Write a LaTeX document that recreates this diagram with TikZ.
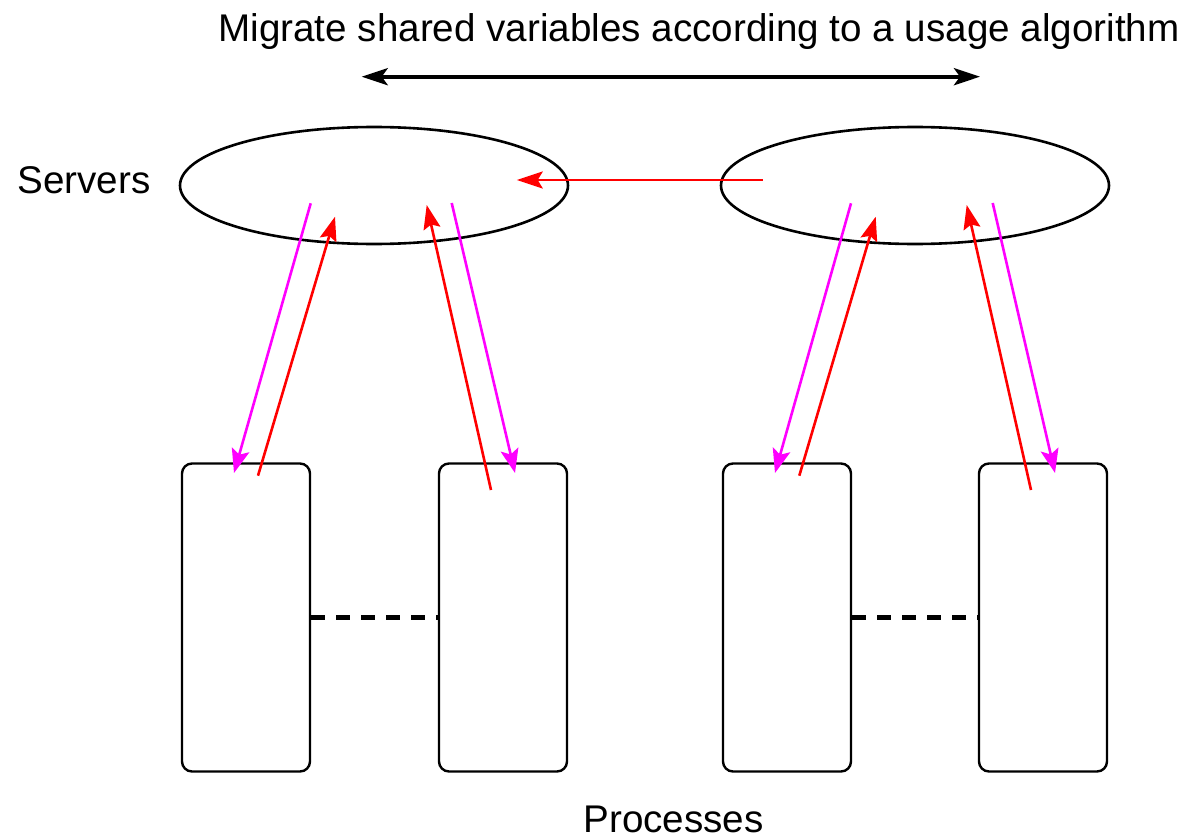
\documentclass[tikz,border=0pt]{standalone}
\usepackage{fontspec}
\setmainfont{Liberation Sans}
\usetikzlibrary{arrows.meta,shapes.geometric}
\definecolor{arred}{RGB}{255,0,0}
\definecolor{armag}{RGB}{255,0,255}
\tikzset{
  server/.style={draw=black,line width=1.3pt,ellipse,inner sep=0pt,minimum width=194pt,minimum height=58.5pt},
  proc/.style={draw=black,line width=1.2pt,rectangle,rounded corners=5pt,inner sep=0pt,minimum width=64pt,minimum height=154pt},
  lbl/.style={inner sep=0pt,font=\fontsize{19.3}{23}\selectfont},
  redarr/.style={draw=arred,line width=1.3pt,-{Stealth[length=12pt,width=8.5pt,inset=2pt]}},
  magarr/.style={draw=armag,line width=1.3pt,-{Stealth[length=12pt,width=9pt,inset=2.5pt]}},
  migarr/.style={draw=black,line width=2pt,{Stealth[length=13pt,width=8.5pt,inset=3pt]}-{Stealth[length=13pt,width=8.5pt,inset=3pt]}},
  dotline/.style={draw=black,line width=2.3pt,dash pattern=on 7pt off 5.5pt}
}
\begin{document}
\begin{tikzpicture}[x=0.5pt,y=-0.5pt]
\useasboundingbox (0,0) rectangle (1194,840);
% labels
\node[lbl,anchor=base west] (title) at (218,41.7) {Migrate shared variables according to a usage algorithm};
\node[lbl,anchor=base west] (servers) at (17,193) {Servers};
\node[lbl,anchor=base west] (processes) at (583,832.5) {Processes};
% servers
\node[server] (s1) at (374,185.5) {};
\node[server] (s2) at (915,185.5) {};
% processes
\node[proc] (p1) at (246,617.5) {};
\node[proc] (p2) at (503,617.5) {};
\node[proc] (p3) at (787,617.5) {};
\node[proc] (p4) at (1043,617.5) {};
% dashed links
\draw[dotline] (p1.east) -- (p2.west);
\draw[dotline] (p3.east) -- (p4.west);
% migration arrow
\coordinate (migL) at (361.7,76.7);
\coordinate (migR) at (980,76.7);
\draw[migarr] (migL) -- (migR);
% server to server
\coordinate (hS) at (762.7,180);
\coordinate (hE) at (516.7,180);
\draw[draw=arred,line width=1.4pt,-{Stealth[length=13pt,width=8.5pt,inset=2.5pt]}] (hS) -- (hE);
% left group
\coordinate (m1s) at (310.7,203.3); \coordinate (m1e) at (234,473);
\coordinate (r1s) at (258,475.7);   \coordinate (r1e) at (335,216.7);
\coordinate (r2s) at (491,490);     \coordinate (r2e) at (426.7,205);
\coordinate (m2s) at (451.7,203);   \coordinate (m2e) at (515,473);
\draw[magarr] (m1s) -- (m1e);
\draw[redarr] (r1s) -- (r1e);
\draw[redarr] (r2s) -- (r2e);
\draw[magarr] (m2s) -- (m2e);
% right group
\coordinate (m3s) at (851,203.3);   \coordinate (m3e) at (775,473);
\coordinate (r3s) at (799.3,475.7); \coordinate (r3e) at (875.7,216.7);
\coordinate (r4s) at (1031,490);    \coordinate (r4e) at (966.7,205);
\coordinate (m4s) at (992.7,203);   \coordinate (m4e) at (1055,473);
\draw[magarr] (m3s) -- (m3e);
\draw[redarr] (r3s) -- (r3e);
\draw[redarr] (r4s) -- (r4e);
\draw[magarr] (m4s) -- (m4e);
\end{tikzpicture}
\end{document}
